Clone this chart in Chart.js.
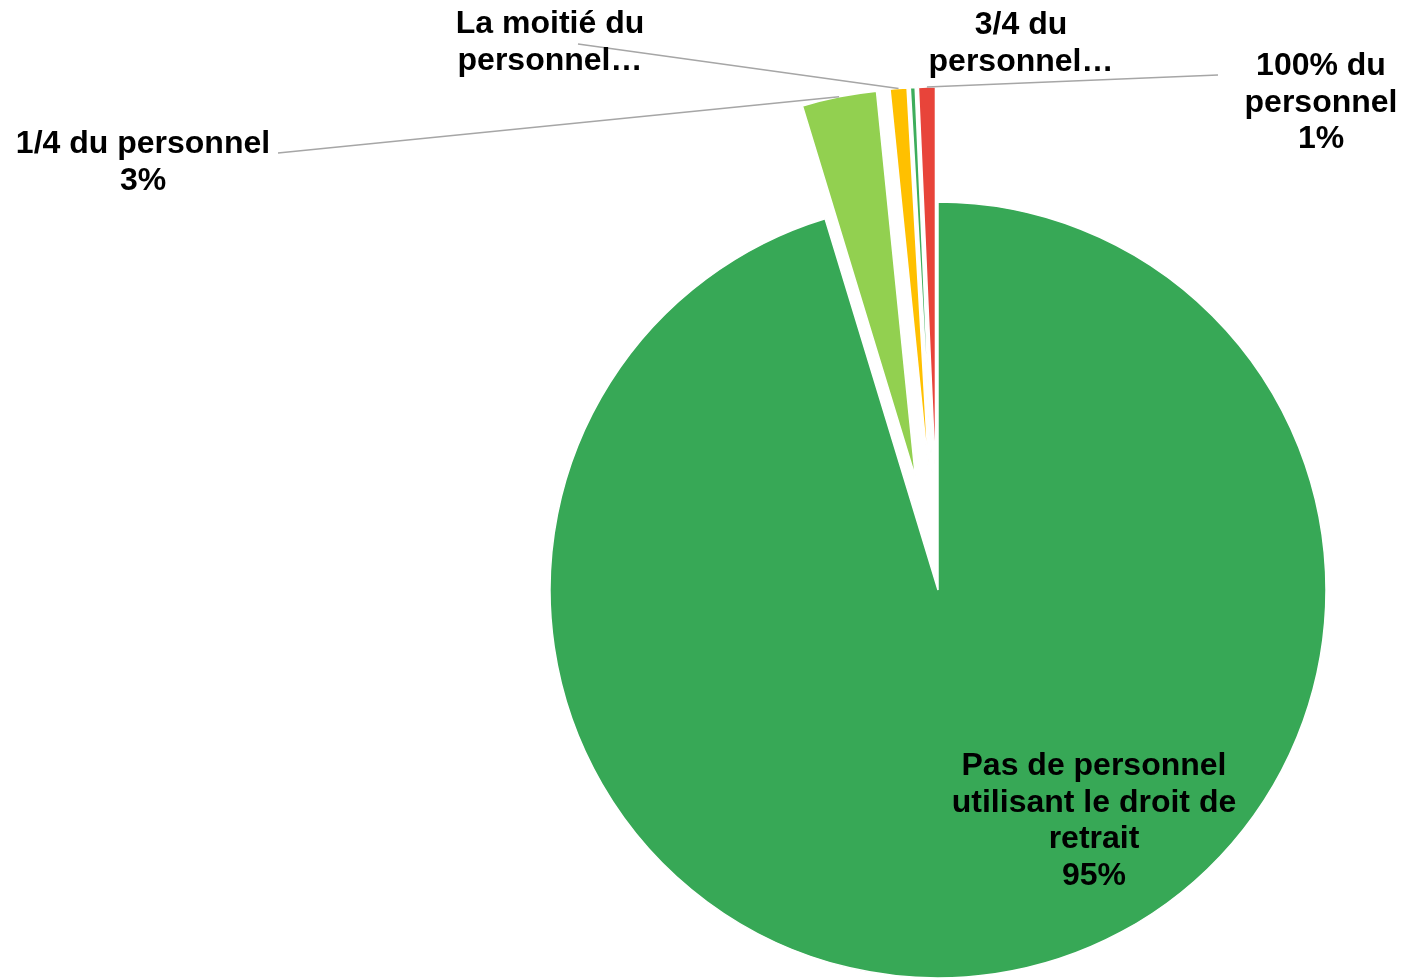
<!DOCTYPE html>
<html lang="fr">
<head>
    <meta charset="UTF-8">
    <title>Droit de retrait</title>
    <script src="https://cdn.jsdelivr.net/npm/chart.js"></script>
    <style>
        body {
            margin: 0;
            padding: 0;
            background: #fff;
            overflow: hidden;
        }
        canvas {
            display: block;
        }
    </style>
</head>
<body>
    <canvas id="pieChart" width="1401" height="979"></canvas>

    <script>
        // Data
        const categories = [
            'Pas de personnel utilisant le droit de retrait',
            '1/4 du personnel',
            'La moitié du personnel',
            '3/4 du personnel',
            '100% du personnel'
        ];
        const shares = [95.3, 3.1, 0.7, 0.2, 0.7];
        const sliceColors = ['#37A856', '#92D050', '#FFC000', '#3DAD5B', '#E8443A'];

        // text as shown on the labels (long ones are cut by the original chart)
        const labelLines = [
            ['Pas de personnel', 'utilisant le droit de', 'retrait'],
            ['1/4 du personnel'],
            ['La moitié du', 'personnel…'],
            ['3/4 du', 'personnel…'],
            ['100% du', 'personnel']
        ];
        const showPercent = [true, true, false, false, true];

        // label placement (centre of first line) and leader line start
        const labelBoxes = [
            { x: 1094, y: 766, line: null },
            { x: 143, y: 144, line: [278, 153] },
            { x: 550, y: 24, line: [578, 44] },
            { x: 1021, y: 25, line: null },
            { x: 1321, y: 66, line: [1218, 75] }
        ];
        const explode = [0, 115, 115, 115, 115];

        const explodePlugin = {
            id: 'explode',
            afterDatasetsUpdate(chart) {
                const meta = chart.getDatasetMeta(0);
                meta.data.forEach((arc, i) => {
                    const d = explode[i];
                    if (!d) return;
                    const mid = (arc.startAngle + arc.endAngle) / 2;
                    arc.x += Math.cos(mid) * d;
                    arc.y += Math.sin(mid) * d;
                });
            }
        };

        const labelPlugin = {
            id: 'sliceLabels',
            afterDatasetsDraw(chart) {
                const ctx = chart.ctx;
                const meta = chart.getDatasetMeta(0);
                const total = shares.reduce((a, b) => a + b, 0);
                const lineH = 36.7;
                ctx.save();

                // leader lines
                ctx.strokeStyle = '#A6A6A6';
                ctx.lineWidth = 1.5;
                meta.data.forEach((arc, i) => {
                    const box = labelBoxes[i];
                    if (!box.line) return;
                    const mid = (arc.startAngle + arc.endAngle) / 2;
                    const ex = arc.x + Math.cos(mid) * arc.outerRadius;
                    const ey = arc.y + Math.sin(mid) * arc.outerRadius;
                    ctx.beginPath();
                    ctx.moveTo(box.line[0], box.line[1]);
                    ctx.lineTo(ex, ey);
                    ctx.stroke();
                });

                // texts
                ctx.fillStyle = '#000';
                ctx.font = 'bold 32px "Liberation Sans", Arial, sans-serif';
                ctx.textAlign = 'center';
                ctx.textBaseline = 'middle';
                labelLines.forEach((lines, i) => {
                    const box = labelBoxes[i];
                    const all = lines.slice();
                    if (showPercent[i]) {
                        all.push(Math.round(shares[i] / total * 100) + '%');
                    }
                    all.forEach((t, k) => {
                        ctx.fillText(t, box.x, box.y + k * lineH);
                    });
                });
                ctx.restore();
            }
        };

        new Chart(document.getElementById('pieChart'), {
            type: 'pie',
            data: {
                labels: categories,
                datasets: [{
                    data: shares,
                    backgroundColor: sliceColors,
                    borderColor: '#ffffff',
                    borderWidth: 1.5,
                    radius: 388
                }]
            },
            options: {
                responsive: false,
                animation: false,
                layout: {
                    padding: { left: 475, top: 201, right: 0, bottom: 0 }
                },
                plugins: {
                    legend: { display: false },
                    tooltip: { enabled: false }
                }
            },
            plugins: [explodePlugin, labelPlugin]
        });
    </script>
</body>
</html>
